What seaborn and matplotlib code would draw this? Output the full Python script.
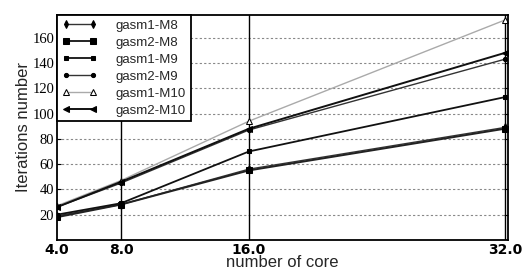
import pandas as pd
import matplotlib
matplotlib.use("Agg")
import matplotlib.pyplot as plt
import seaborn as sns

cores = [4, 8, 16, 32]
series_names = ["gasm1-M8", "gasm2-M8", "gasm1-M9", "gasm2-M9", "gasm1-M10", "gasm2-M10"]
gasm1_m8 = [19, 28, 56, 89]
gasm2_m8 = [18, 28, 55, 88]
gasm1_m9 = [20, 29, 70, 113]
gasm2_m9 = [26, 45, 87, 143]
gasm1_m10 = [27, 47, 94, 174]
gasm2_m10 = [26, 46, 88, 148]
x_ticks = [4, 8, 16, 32]
x_tick_labels = ["4.0", "8.0", "16.0", "32.0"]
y_ticks = [20, 40, 60, 80, 100, 120, 140, 160]

values = [gasm1_m8, gasm2_m8, gasm1_m9, gasm2_m9, gasm1_m10, gasm2_m10]
rows = []
for name, vals in zip(series_names, values):
    for c, v in zip(cores, vals):
        rows.append({"cores": c, "iterations": v, "series": name})
df = pd.DataFrame(rows)

markers = {"gasm1-M8": "d", "gasm2-M8": "s", "gasm1-M9": "s", "gasm2-M9": "o",
           "gasm1-M10": "^", "gasm2-M10": "<"}
msizes = {"gasm1-M8": 4, "gasm2-M8": 5, "gasm1-M9": 3.5, "gasm2-M9": 3,
          "gasm1-M10": 4.5, "gasm2-M10": 5}
colors = {"gasm1-M8": "#333333", "gasm2-M8": "#222222", "gasm1-M9": "#111111",
          "gasm2-M9": "#333333", "gasm1-M10": "#aaaaaa", "gasm2-M10": "#111111"}
widths = {"gasm1-M8": 1.0, "gasm2-M8": 1.4, "gasm1-M9": 1.3, "gasm2-M9": 1.0,
          "gasm1-M10": 1.0, "gasm2-M10": 1.4}

sns.set_style("white")

fig = plt.figure(figsize=(5.25, 2.78), dpi=100)
ax = fig.add_axes([0.1086, 0.137, 0.859, 0.809])

for name in series_names:
    sub = df[df["series"] == name]
    sns.lineplot(data=sub, x="cores", y="iterations", ax=ax, label=name,
                 color=colors[name], linewidth=widths[name], marker=markers[name],
                 markersize=msizes[name], markeredgecolor="black",
                 markerfacecolor="black" if name != "gasm1-M10" else "white")

ax.set_xlim(4, 32.2)
ax.set_ylim(0, 178)
ax.set_xticks(x_ticks)
ax.set_xticklabels(x_tick_labels, fontweight="bold", fontsize=10, family="DejaVu Sans")
ax.set_yticks(y_ticks)
ax.set_yticklabels([str(t) for t in y_ticks], fontsize=10.5, family="Liberation Serif")
ax.tick_params(axis="both", direction="in", length=3, pad=2, colors="black")
ax.tick_params(axis="y", right=True, left=True)

ax.yaxis.grid(True, color="#888888", linestyle=(0, (2, 2)), linewidth=0.8)
for xv in x_ticks[1:]:
    ax.axvline(xv, color="black", linewidth=1.0, zorder=1)

for s in ax.spines.values():
    s.set_visible(True)
    s.set_color("black")
    s.set_linewidth(1.3)

ax.set_xlabel("number of core", fontsize=12, family="Liberation Sans", labelpad=-1)
ax.set_ylabel("Iterations number", fontsize=12, family="Liberation Sans", labelpad=1)

leg = ax.legend(loc="upper left", bbox_to_anchor=(0, 1), borderaxespad=0,
                frameon=True, fancybox=False, handlelength=2.7, numpoints=2,
                labelspacing=0.36, borderpad=0.35, handletextpad=1.4,
                prop={"family": "Liberation Sans", "size": 9.5})
leg.get_frame().set_edgecolor("black")
leg.get_frame().set_linewidth(1.3)
leg.get_frame().set_alpha(1)

fig.savefig("out.png", dpi=100)
